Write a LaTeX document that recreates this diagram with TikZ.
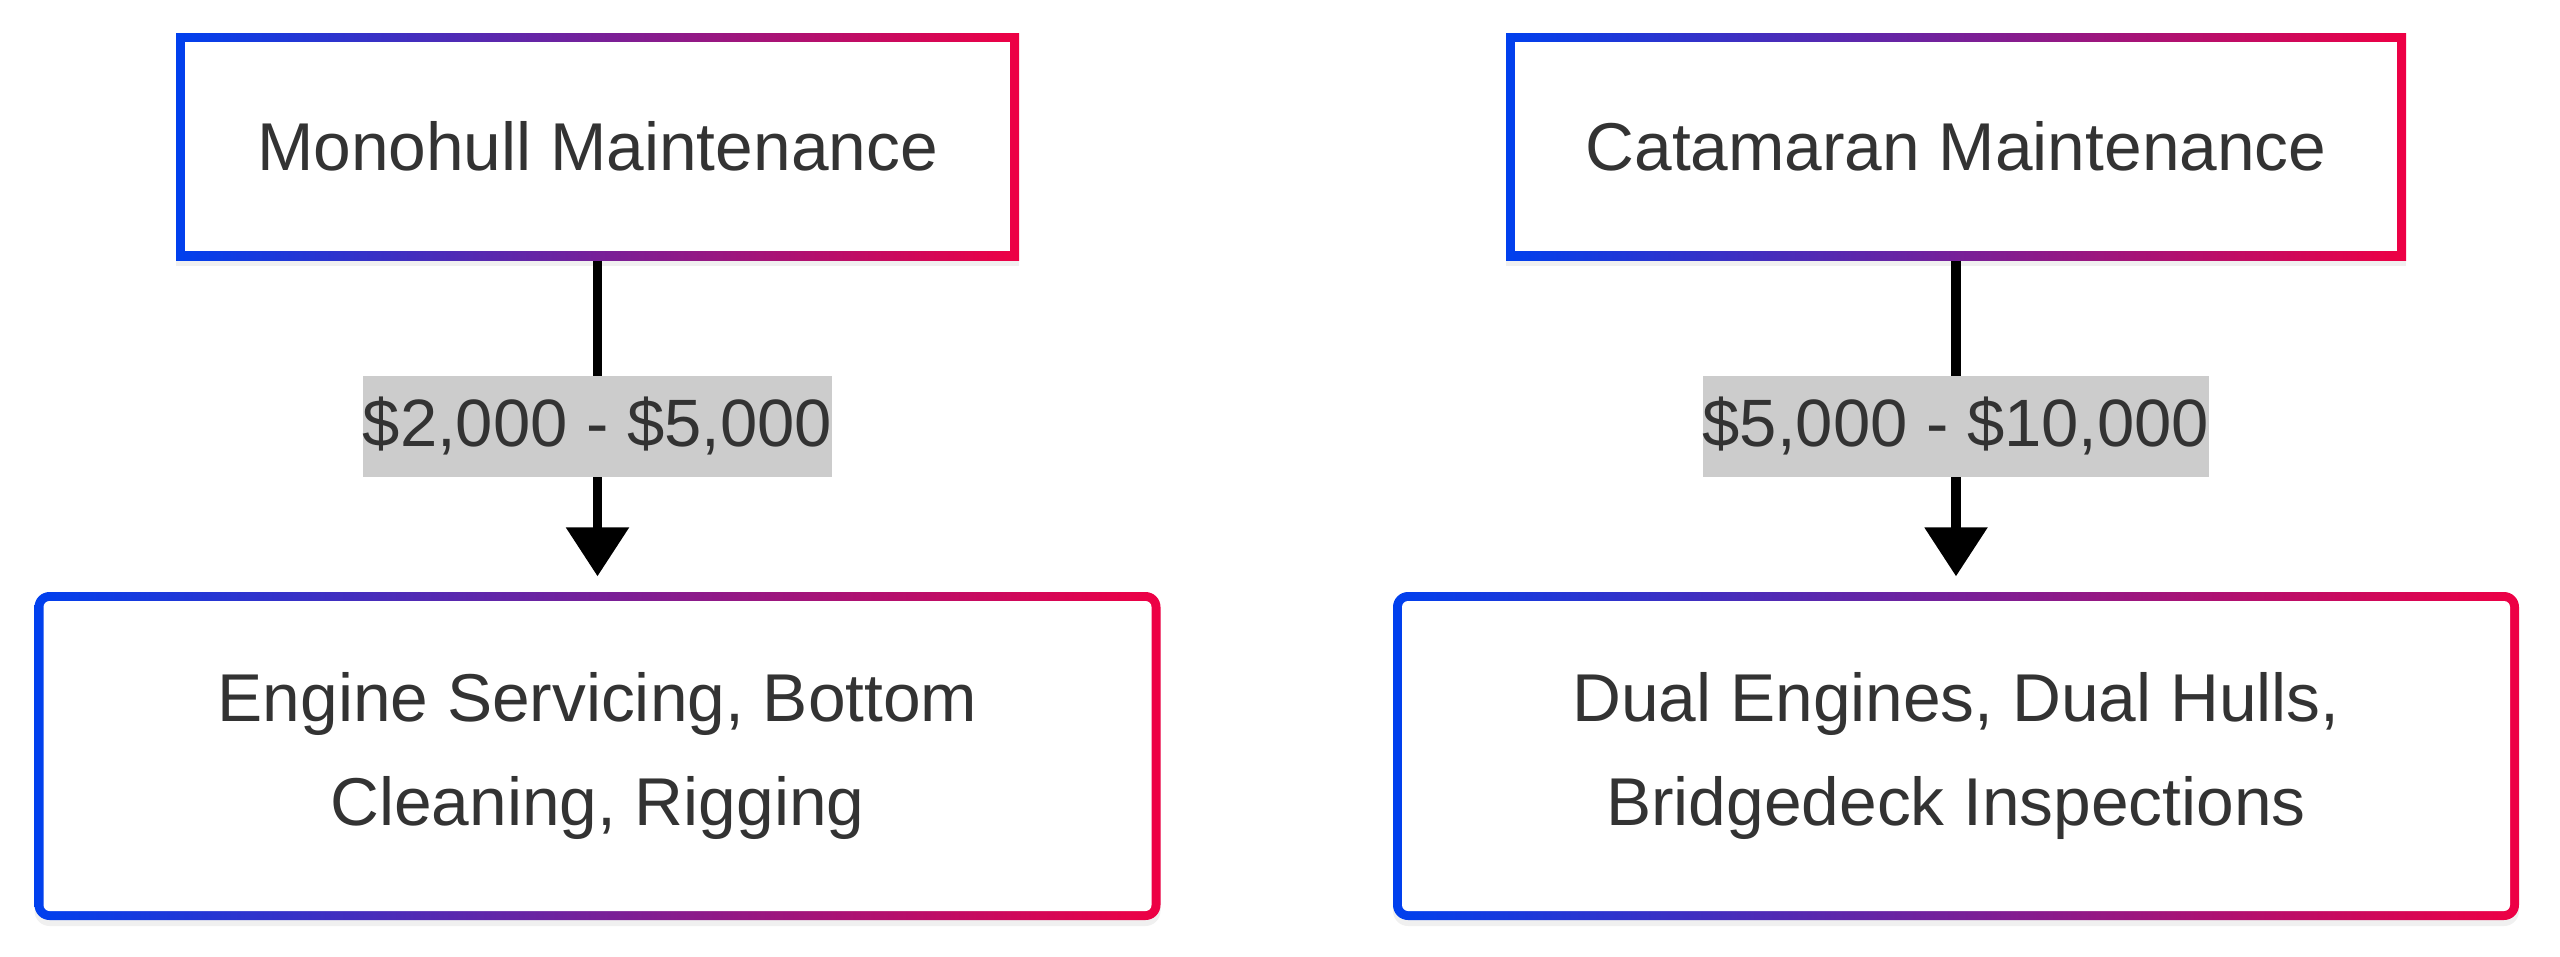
\documentclass[tikz,border=0pt]{standalone}
\usepackage{fontspec}
\setmainfont{Liberation Sans}
\usetikzlibrary{arrows.meta,shadows}
\definecolor{edgeblue}{RGB}{0,64,238}
\definecolor{edgered}{RGB}{238,0,68}
\definecolor{textgray}{RGB}{51,51,51}
\definecolor{labelgray}{RGB}{204,204,204}
\begin{document}
\begin{tikzpicture}[x=0.3pt,y=-0.3pt,
	box/.style={shape=rectangle,inner sep=0pt,align=center,text=textgray,
		font=\fontsize{20.3pt}{31pt}\selectfont,
		left color=edgeblue,right color=edgered,
		drop shadow={shadow xshift=0pt,shadow yshift=-1.8pt,opacity=0.12},
		path picture={\fill [white,rounded corners=#1]
			([shift={(2.7pt,-2.7pt)}]path picture bounding box.north west) rectangle
			([shift={(-2.7pt,2.7pt)}]path picture bounding box.south east);}},
	topbox/.style={box=0pt,minimum height=68.1pt},
	jobbox/.style={box=1.8pt,rounded corners=4.5pt,minimum width=337.8pt,minimum height=98.4pt},
	cost/.style={line width=2.8pt,-{Triangle[width=18.3pt,length=14.7pt]},shorten >=4.5pt},
	costlabel/.style={fill=labelgray,text=textgray,font=\fontsize{20.1pt}{31pt}\selectfont,
		inner xsep=0pt,inner ysep=0pt,minimum height=30.3pt}]
\useasboundingbox (0,0) rectangle (2560,957);
% monohull
\node [topbox,minimum width=252.9pt] (mono) at (597.5,146.5) {Monohull Maintenance};
\node [jobbox] (monojobs) at (597.5,756) {Engine Servicing, Bottom\\Cleaning, Rigging};
\draw [cost] (mono) -- node [costlabel] {\$2,000 - \$5,000} (monojobs);
% catamaran
\node [topbox,minimum width=270pt] (cata) at (1956,146.5) {Catamaran Maintenance};
\node [jobbox] (catajobs) at (1956,756) {Dual Engines, Dual Hulls,\\Bridgedeck Inspections};
\draw [cost] (cata) -- node [costlabel] {\$5,000 - \$10,000} (catajobs);
\end{tikzpicture}
\end{document}
